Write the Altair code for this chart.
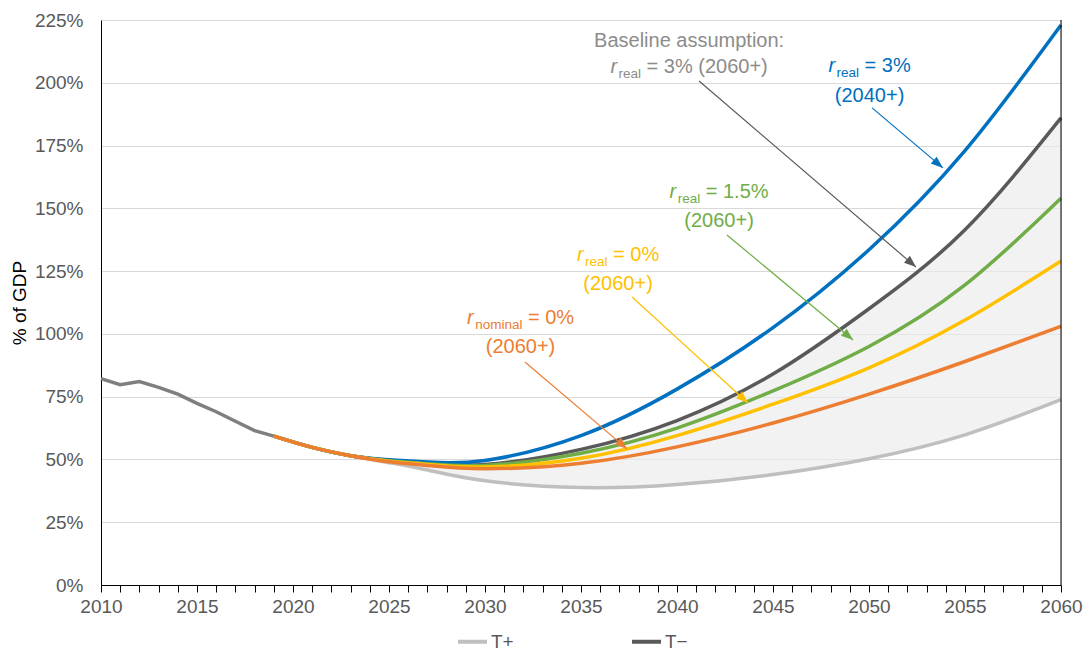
import math
import altair as alt
import pandas as pd

FONT = "Liberation Sans"
W_PLOT, H_PLOT = 960, 565
X_MIN, X_MAX, Y_MIN, Y_MAX = 2010, 2060, 0, 225

# ---------------- data ----------------
hist_years = list(range(2010, 2020))
hist_values = [82.2, 79.8, 81.0, 78.7, 76.0, 72.3, 69.0, 65.2, 61.5, 59.3]

proj_years = [2019, 2021, 2023, 2025, 2027, 2030, 2035, 2040, 2045, 2050, 2055, 2060]
t_plus = [59.3, 54.8, 51.5, 48.7, 45.8, 41.5, 38.8, 40.0, 44.0, 50.3, 59.8, 73.8]
t_minus = [59.3, 54.8, 51.5, 49.6, 48.6, 48.0, 54.0, 65.5, 84.0, 110.0, 141.5, 186.0]
real3_2040 = [59.3, 54.8, 51.5, 49.9, 49.0, 49.6, 59.5, 78.0, 102.5, 133.5, 173.0, 223.0]
real15 = [59.3, 54.8, 51.5, 49.5, 48.3, 47.6, 52.5, 62.5, 77.3, 95.0, 119.5, 154.0]
real0 = [59.3, 54.8, 51.5, 49.3, 48.0, 47.0, 50.5, 59.5, 72.0, 86.5, 105.5, 129.0]
nominal0 = [59.3, 54.8, 51.5, 49.1, 47.6, 46.3, 48.5, 55.0, 64.5, 76.0, 89.0, 103.0]

legend_names = ["T+", "T\u2212"]
legend_colors = ["#bfbfbf", "#595959"]

extra_series = [real3_2040, real15, real0, nominal0]
extra_colors = ["#0070c0", "#70ad47", "#ffc000", "#ed7d31"]

# annotations
ann_color = ["#8c8c8c", "#0070c0", "#70ad47", "#ffc000", "#ed7d31"]
ann_sub = ["real", "real", "real", "real", "nominal"]
ann_rest = ["= 3% (2060+)", "= 3%", "= 1.5%", "= 0%", "= 0%"]
ann_line2 = ["", "(2040+)", "(2060+)", "(2060+)", "(2060+)"]
ann_x = [2040.63, 2050.03, 2042.19, 2036.93, 2031.85]
ann_y = [203.9, 204.4, 154.0, 129.15, 103.94]
ann_y2 = [None, 192.47, 142.69, 117.48, 92.51]
header_text = "Baseline assumption:"
header_x = 2040.63
header_y = 214.37

arrow_x1 = [2041.15, 2050.16, 2042.60, 2037.66, 2032.08]
arrow_y1 = [200.7, 190.0, 139.4, 114.7, 88.8]
arrow_x2 = [2052.45, 2053.85, 2049.17, 2043.70, 2037.40]
arrow_y2 = [126.6, 166.1, 97.6, 72.5, 54.2]
arrow_color = ["#595959", "#0070c0", "#70ad47", "#ffc000", "#ed7d31"]

# ---------------- helpers ----------------
def X(field):
    return alt.X(
        field, type="quantitative",
        scale=alt.Scale(domain=[X_MIN, X_MAX], nice=False, zero=False),
        axis=alt.Axis(
            values=list(range(2010, 2061)),
            labelExpr="datum.value % 5 === 0 ? datum.label : ''",
            format="d", title=None, grid=False,
            tickSize=7, tickColor="black", domainColor="black",
            labelColor="#595959", labelFontSize=19, labelFont=FONT,
            labelPadding=5, labelFlush=False, labelOverlap=False,
        ),
    )


def Y(field):
    return alt.Y(
        field, type="quantitative",
        scale=alt.Scale(domain=[Y_MIN, Y_MAX], nice=False),
        axis=alt.Axis(
            values=list(range(0, 226, 25)),
            labelExpr="datum.value + '%'",
            grid=True, gridColor="#d9d9d9", gridWidth=1,
            ticks=False, tickSize=0, domainColor="black",
            labelColor="#595959", labelFontSize=19, labelFont=FONT,
            labelPadding=18,
            title="% of GDP", titleFont=FONT, titleFontSize=19,
            titleFontWeight="normal", titleColor="black",
            titleAngle=270, titleX=-82, titleY=H_PLOT / 2,
            titleAlign="center", titleBaseline="middle",
        ),
    )


ARIAL = {c: 556 for c in "0123456789"}
ARIAL.update({"=": 584, " ": 278, "%": 889, "(": 333, ")": 333, "+": 584, ".": 278,
              "r": 333, "e": 556, "a": 556, "l": 222, "n": 556, "o": 556, "m": 833, "i": 222})


def tw(s, size):
    return sum(ARIAL.get(c, 556) for c in s) * size / 1000.0


MAIN, SUB = 20, 13.5
GAP1, GAP2 = 1.5, 5.5
px_year = W_PLOT / (X_MAX - X_MIN)
px_pct = H_PLOT / (Y_MAX - Y_MIN)
INTERP = "natural"

layers = []

# shaded band between T+ and T-
band = pd.DataFrame({"year": proj_years, "lo": t_plus, "hi": t_minus})
layers.append(
    alt.Chart(band).mark_area(color="#ebebeb", opacity=0.65, interpolate=INTERP).encode(
        x=X("year"), y=Y("lo"), y2="hi"
    )
)

# history
hist = pd.DataFrame({"year": hist_years, "value": hist_values})
layers.append(
    alt.Chart(hist).mark_line(color="#7f7f7f", strokeWidth=3.5).encode(x=X("year"), y=Y("value"))
)

# T+ / T- (with legend)
rows = []
for name, vals in zip(legend_names, [t_plus, t_minus]):
    for yr, v in zip(proj_years, vals):
        rows.append({"year": yr, "value": v, "series": name})
tdf = pd.DataFrame(rows)
layers.append(
    alt.Chart(tdf).mark_line(strokeWidth=3.5, interpolate=INTERP).encode(
        x=X("year"), y=Y("value"),
        color=alt.Color(
            "series:N",
            scale=alt.Scale(domain=legend_names, range=legend_colors),
            legend=alt.Legend(
                orient="none", legendX=355, legendY=605, direction="horizontal",
                title=None, symbolType="stroke", symbolSize=841, symbolStrokeWidth=4,
                labelFontSize=19, labelColor="#595959", labelFont=FONT,
                labelOffset=2, columnPadding=110, padding=0,
            ),
        ),
    )
)

# other scenarios
for vals, col in zip(extra_series, extra_colors):
    d = pd.DataFrame({"year": proj_years, "value": vals})
    layers.append(
        alt.Chart(d).mark_line(color=col, strokeWidth=3.5, interpolate=INTERP).encode(
            x=X("year"), y=Y("value")
        )
    )

# right border
layers.append(
    alt.Chart(pd.DataFrame({"x": [X_MAX]})).mark_rule(color="black", strokeWidth=1).encode(x=X("x"))
)

# arrows
adf = pd.DataFrame({"x1": arrow_x1, "y1": arrow_y1, "x2": arrow_x2, "y2": arrow_y2, "c": arrow_color})
adf["angle"] = [
    math.degrees(math.atan2((b - a) * px_year, (d - c) * px_pct)) % 360
    for a, b, c, d in zip(arrow_x1, arrow_x2, arrow_y1, arrow_y2)
]
layers.append(
    alt.Chart(adf).mark_rule(strokeWidth=1.2).encode(
        x=X("x1"), y=Y("y1"), x2="x2", y2="y2", color=alt.Color("c:N", scale=None)
    )
)
layers.append(
    alt.Chart(adf).mark_point(
        shape="M0,0L0.75,2L-0.75,2Z", filled=True, size=144, opacity=1, strokeWidth=0
    ).encode(
        x=X("x2"), y=Y("y2"), color=alt.Color("c:N", scale=None),
        angle=alt.Angle("angle:Q", scale=None),
    )
)

# header text
layers.append(
    alt.Chart(pd.DataFrame({"x": [header_x], "y": [header_y], "t": [header_text]})).mark_text(
        align="center", baseline="alphabetic", font=FONT, fontSize=MAIN, color=ann_color[0]
    ).encode(x=X("x"), y=Y("y"), text="t:N")
)

# annotation labels
for i in range(len(ann_x)):
    w_r = tw("r", MAIN)
    w_sub = tw(ann_sub[i], SUB)
    w_rest = tw(ann_rest[i], MAIN)
    total = w_r + GAP1 + w_sub + GAP2 + w_rest
    left = -total / 2
    parts = [
        ("r", left, 0, MAIN, "italic"),
        (ann_sub[i], left + w_r + GAP1, 5, SUB, "normal"),
        (ann_rest[i], left + w_r + GAP1 + w_sub + GAP2, 0, MAIN, "normal"),
    ]
    d = pd.DataFrame({"x": [ann_x[i]], "y": [ann_y[i]]})
    for txt, dx, dy, fs, style in parts:
        layers.append(
            alt.Chart(d).mark_text(
                align="left", baseline="alphabetic", dx=dx, dy=dy, font=FONT,
                fontSize=fs, fontStyle=style, color=ann_color[i], text=txt,
            ).encode(x=X("x"), y=Y("y"))
        )
    if ann_line2[i]:
        d2 = pd.DataFrame({"x": [ann_x[i]], "y": [ann_y2[i]], "t": [ann_line2[i]]})
        layers.append(
            alt.Chart(d2).mark_text(
                align="center", baseline="alphabetic", font=FONT, fontSize=MAIN,
                color=ann_color[i],
            ).encode(x=X("x"), y=Y("y"), text="t:N")
        )

chart = alt.layer(*layers).properties(
    width=W_PLOT, height=H_PLOT,
    autosize=alt.AutoSizeParams(type="none"),
    padding={"left": 93, "top": 12, "right": 22, "bottom": 68},
    background="white",
).configure_view(stroke=None).configure(font=FONT)

chart.save("out.html", embed_options={"renderer": "svg", "actions": False})
